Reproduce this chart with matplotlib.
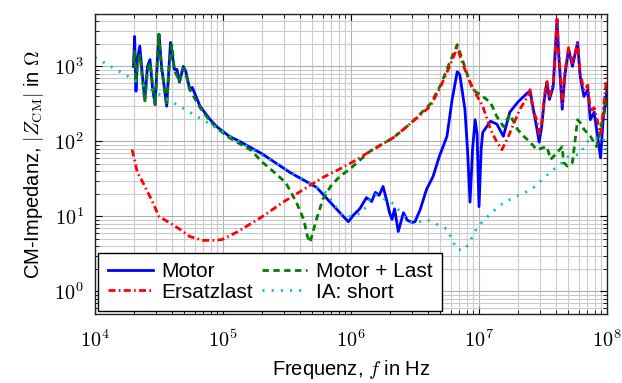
import matplotlib
matplotlib.use("Agg")
import matplotlib.pyplot as plt
from matplotlib.ticker import LogLocator, FuncFormatter, NullFormatter
import numpy as np

# ---- data ----
f_motor = [2.00e4, 2.04e4, 2.09e4, 2.14e4, 2.24e4, 2.34e4, 2.45e4, 2.57e4, 2.69e4, 2.82e4, 2.95e4,
           3.09e4, 3.16e4, 3.31e4, 3.39e4, 3.63e4, 3.80e4, 3.89e4, 4.17e4, 4.37e4, 4.57e4, 4.90e4,
           5.13e4, 5.50e4, 5.75e4, 6.61e4, 7.24e4, 7.94e4, 8.91e4, 1.12e5, 1.35e5, 2.04e5, 3.31e5,
           5.37e5, 8.71e5, 9.55e5, 1.05e6, 1.17e6, 1.32e6, 1.45e6, 1.55e6, 1.66e6, 1.78e6, 1.91e6,
           2.00e6, 2.09e6, 2.19e6, 2.34e6, 2.57e6, 2.75e6, 3.02e6, 3.16e6, 3.47e6, 3.89e6,
           4.37e6, 4.90e6, 5.62e6, 6.17e6, 6.76e6, 7.08e6, 7.76e6, 8.13e6, 8.51e6, 8.91e6,
           9.33e6, 9.66e6, 1.00e7, 1.04e7, 1.07e7, 1.23e7, 1.38e7, 1.55e7, 1.74e7, 2.00e7,
           2.40e7, 2.51e7, 2.63e7, 2.82e7, 2.95e7, 3.09e7, 3.24e7, 3.39e7, 3.55e7, 3.80e7,
           4.07e7, 4.17e7, 4.47e7, 4.68e7, 5.01e7, 5.37e7, 5.89e7, 6.17e7, 6.61e7, 7.08e7,
           7.41e7, 7.94e7, 8.91e7, 9.33e7, 1.00e8]
z_motor = [1000, 2510, 468, 1200, 1860, 794, 363, 1000, 1230, 500, 309,
           1500, 2690, 1000, 741, 295, 1100, 2090, 912, 912, 617, 1000,
           851, 490, 525, 295, 240, 195, 158, 117, 100, 67.6, 38.9,
           24.5, 10.0, 8.5, 10.5, 12.6, 17.8, 15.8, 20.9, 19.1, 25.1, 15.8,
           11.2, 9.1, 12.6, 6.3, 11.2, 8.9, 8.3, 8.5, 12.3, 22.9,
           33.9, 63.1, 117, 363, 851, 776, 269, 77.6, 15.5, 79.4,
           195, 126, 13.5, 79.4, 132, 186, 170, 117, 245, 331,
           447, 468, 295, 155, 97.7, 158, 363, 617, 363, 537,
           4270, 1700, 269, 741, 1700, 1000, 2090, 741, 398, 490,
           195, 245, 60.3, 195, 490]

f_last = [1.95e4, 2.04e4, 2.14e4, 2.29e4, 2.45e4, 2.75e4, 3.16e4, 3.80e4, 4.57e4, 5.50e4,
          6.92e4, 8.32e4, 9.77e4, 1.29e5, 2.04e5, 2.95e5, 4.27e5, 6.03e5, 8.13e5, 1.12e6,
          1.41e6, 2.14e6, 2.88e6, 4.17e6, 5.01e6, 5.89e6, 6.76e6, 7.59e6, 8.51e6, 9.33e6,
          1.07e7, 1.23e7, 1.38e7, 1.51e7, 1.66e7, 1.86e7, 2.09e7, 2.40e7, 2.51e7, 2.63e7,
          2.82e7, 2.95e7, 3.09e7, 3.24e7, 3.39e7, 3.55e7, 3.80e7, 4.07e7, 4.17e7, 4.47e7,
          4.68e7, 5.01e7, 5.37e7, 5.89e7, 6.17e7, 6.61e7, 7.08e7, 7.41e7, 7.94e7, 8.91e7,
          9.33e7, 1.00e8]
z_last = [77.6, 56.2, 38.9, 31.6, 25.1, 17.0, 10.0, 8.3, 6.8, 5.4,
          4.8, 4.8, 4.9, 6.2, 10.0, 15.5, 22.9, 33.1, 42.7, 57.5,
          74.1, 112, 170, 295, 537, 1000, 1778, 1000, 617, 447,
          295, 145, 97.7, 77.6, 107, 170, 269, 398, 490, 269,
          195, 126, 178, 398, 661, 398, 603, 4266, 1905, 316,
          832, 1778, 1122, 1995, 832, 479, 562, 251, 282, 126,
          251, 794]

f_ml = [2.00e4, 2.04e4, 2.09e4, 2.14e4, 2.24e4, 2.34e4, 2.45e4, 2.57e4, 2.69e4, 2.82e4, 2.95e4,
        3.09e4, 3.16e4, 3.31e4, 3.39e4, 3.63e4, 3.80e4, 3.98e4, 4.17e4, 4.57e4, 4.90e4, 5.13e4,
        5.50e4, 6.61e4, 7.94e4, 8.91e4, 1.12e5, 1.35e5, 1.66e5, 2.04e5, 2.51e5, 3.09e5, 3.72e5,
        4.27e5, 4.57e5, 4.79e5, 5.37e5, 6.03e5, 6.92e5, 8.13e5, 9.77e5, 1.41e6, 2.14e6, 2.88e6,
        4.17e6, 5.01e6, 5.89e6, 6.76e6, 7.76e6, 8.91e6, 1.07e7, 1.23e7, 1.38e7, 1.55e7,
        1.74e7, 2.00e7, 2.24e7, 2.51e7, 2.82e7, 3.39e7, 3.63e7, 4.07e7, 4.47e7, 4.57e7,
        4.90e7, 5.37e7, 5.89e7, 6.17e7, 6.61e7, 7.41e7, 8.32e7, 9.12e7, 1.00e8]
z_ml = [1122, 1585, 600, 1000, 1413, 708, 331, 891, 1122, 562, 309,
        1400, 2692, 891, 708, 295, 1000, 1950, 891, 631, 950, 794,
        490, 282, 186, 151, 112, 93.3, 75.9, 52.5, 38.9, 28.2, 15.8,
        9.1, 5.4, 4.5, 9.1, 17.0, 25.1, 33.9, 42.7, 74.1, 112, 170,
        316, 562, 1122, 1950, 977, 490, 398, 331, 214, 158,
        229, 145, 117, 97.7, 77.6, 85.1, 57.5, 70.8, 85.1, 52.5,
        46.8, 52.5, 195, 178, 145, 117, 85.1, 178, 363]

f_short = [1.00e4, 3.02e4, 7.24e4, 3.16e5, 6.31e5, 8.71e5, 1.00e6, 1.23e6, 1.41e6, 1.55e6,
           2.00e6, 2.19e6, 2.40e6, 2.88e6, 3.31e6, 3.89e6, 5.62e6, 6.31e6, 6.76e6, 7.76e6,
           8.51e6, 9.55e6, 1.05e7, 1.29e7, 1.58e7, 2.09e7, 2.57e7, 3.31e7, 3.63e7, 4.17e7,
           5.01e7, 6.17e7, 6.61e7, 7.08e7, 8.51e7, 9.33e7, 1.00e8]
z_short = [1318, 447, 186, 41.7, 20.9, 10.0, 10.0, 11.2, 17.4, 19.5,
           15.8, 14.5, 11.7, 8.3, 8.3, 9.1, 6.8, 4.5, 3.6, 3.6,
           4.7, 6.8, 8.3, 11.7, 15.5, 19.5, 22.9, 33.9, 39.8, 46.8,
           63.1, 67.6, 85.1, 100, 112, 112, 70.8]

labels = ["Motor", "Ersatzlast", "Motor + Last", "IA: short"]

# ---- style ----
FS = 14.5
plt.rcParams["font.family"] = ["Liberation Sans", "DejaVu Sans"]
plt.rcParams["mathtext.fontset"] = "cm"
plt.rcParams["font.size"] = FS

fig = plt.figure(figsize=(6.22, 3.83), dpi=100)
ax = fig.add_axes([95 / 622, 1 - 314 / 383, (607 - 95) / 622, (314 - 14) / 383])

lw = 2.0
h1, = ax.plot(f_motor, z_motor, color="#0000ff", lw=lw, ls="-", label=labels[0])
h3, = ax.plot(f_ml, z_ml, color="#008000", lw=lw, ls=(0, (2.3, 1.6)), label=labels[2])
h2, = ax.plot(f_last, z_last, color="#ff0000", lw=lw, ls=(0, (2.5, 1.2, 0.6, 1.2)), label=labels[1])
h4, = ax.plot(f_short, z_short, color="#00c0c0", lw=lw, ls=(0, (0.7, 2.6)), label=labels[3])

ax.set_xscale("log")
ax.set_yscale("log")
ax.set_xlim(1e4, 1e8)
ax.set_ylim(0.5, 5000)

ax.xaxis.set_major_locator(LogLocator(base=10, numticks=10))
ax.yaxis.set_major_locator(LogLocator(base=10, numticks=10))
ax.xaxis.set_minor_locator(LogLocator(base=10, subs=np.arange(2, 10), numticks=20))
ax.yaxis.set_minor_locator(LogLocator(base=10, subs=np.arange(2, 10), numticks=20))
fmt = FuncFormatter(lambda v, p: r"$10^{%d}$" % int(round(np.log10(v))))
ax.xaxis.set_major_formatter(fmt)
ax.yaxis.set_major_formatter(fmt)
ax.xaxis.set_minor_formatter(NullFormatter())
ax.yaxis.set_minor_formatter(NullFormatter())

ax.tick_params(which="both", direction="in", top=True, right=True, labelsize=FS)
ax.tick_params(which="major", length=5, width=0.8)
ax.tick_params(axis="x", which="major", pad=11)
ax.tick_params(axis="y", which="major", pad=8)
ax.tick_params(which="minor", length=3, width=0.6)
ax.grid(True, which="major", color="#b0b0b0", lw=0.8)
ax.grid(True, which="minor", color="#cbcbcb", lw=0.8)
ax.set_axisbelow(True)
for s in ax.spines.values():
    s.set_linewidth(1.0)
    s.set_color("#222222")

ax.set_xlabel(r"Frequenz, $f$ in Hz", fontsize=FS, labelpad=5)
ax.set_ylabel(r"CM-Impedanz, $|Z_{\mathrm{CM}}|$ in $\Omega$", fontsize=FS, labelpad=6)

leg = ax.legend(handles=[h1, h2, h3, h4], labels=labels, loc="lower left", ncol=2,
                frameon=True, fancybox=False, edgecolor="black", framealpha=1,
                fontsize=15, handlelength=2.2, handletextpad=0.4, columnspacing=0.4,
                labelspacing=0.05, borderpad=0.45, borderaxespad=0.15)
leg.get_frame().set_linewidth(1.0)

fig.savefig("out.png", dpi=100)
